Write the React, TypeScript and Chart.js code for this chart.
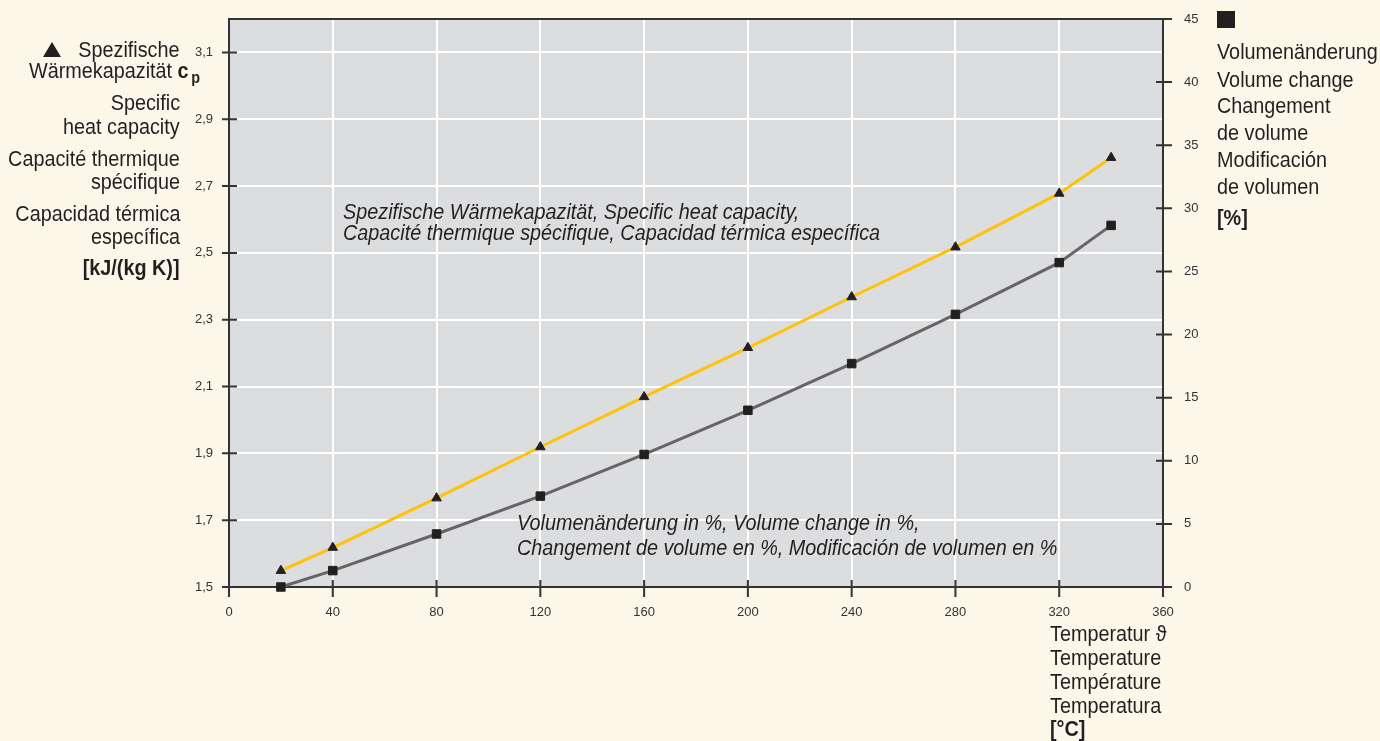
import React, { useEffect, useRef } from "react";
import { Chart, registerables } from "chart.js";

Chart.register(...registerables);

// ---- data ----
const temps = [20, 40, 80, 120, 160, 200, 240, 280, 320, 340];
const heatCapacity = [1.549, 1.618, 1.766, 1.919, 2.069, 2.216, 2.368, 2.517, 2.678, 2.785];
const volumeChange = [0, 1.3, 4.2, 7.2, 10.5, 14.0, 17.7, 21.6, 25.7, 28.65];
const xTicks = [0, 40, 80, 120, 160, 200, 240, 280, 320, 360];
const cpTicks = [1.5, 1.7, 1.9, 2.1, 2.3, 2.5, 2.7, 2.9, 3.1];
const volTicks = [0, 5, 10, 15, 20, 25, 30, 35, 40, 45];

const W = 1380;
const H = 741;
const BG = "#fdf7ea";
const PLOT_BG = "#dcdddf";
const INK = "#231f20";
const TICK_FONT = { family: "'Liberation Sans', Arial, sans-serif", size: 13 };
const TITLE_FONT = "'Liberation Sans', Arial, sans-serif";

const framePlugin = {
  id: "frame",
  beforeDraw(chart: any) {
    const { ctx, chartArea: a } = chart;
    ctx.save();
    ctx.fillStyle = PLOT_BG;
    ctx.fillRect(a.left, a.top, a.right - a.left, a.bottom - a.top);
    ctx.restore();
  },
  beforeDatasetsDraw(chart: any) {
    const { ctx, chartArea: a, scales } = chart;
    ctx.save();
    ctx.strokeStyle = "#333";
    ctx.lineWidth = 2;
    ctx.strokeRect(a.left, a.top, a.right - a.left, a.bottom - a.top);
    ctx.beginPath();
    xTicks.forEach((v) => {
      const px = scales.x.getPixelForValue(v);
      ctx.moveTo(px, a.bottom - 7);
      ctx.lineTo(px, a.bottom + 10);
    });
    cpTicks.forEach((v) => {
      const py = scales.y.getPixelForValue(v);
      ctx.moveTo(a.left - 7, py);
      ctx.lineTo(a.left + 8, py);
    });
    volTicks.forEach((v) => {
      const py = scales.y2.getPixelForValue(v);
      ctx.moveTo(a.right - 7, py);
      ctx.lineTo(a.right + 9, py);
    });
    ctx.stroke();
    ctx.restore();
  },
};

function Txt(props: { x: number; y: number; align?: "left" | "right"; children: any; style?: any }) {
  const { x, y, align = "left", children, style } = props;
  const pos: any = align === "left" ? { left: x } : { right: W - x };
  return (
    <div
      style={{
        position: "absolute",
        top: y,
        transform: "translateY(-50%) scaleX(0.9)",
        transformOrigin: align === "left" ? "left center" : "right center",
        whiteSpace: "nowrap",
        fontFamily: TITLE_FONT,
        fontSize: 22,
        lineHeight: "24px",
        color: INK,
        ...pos,
        ...style,
      }}
    >
      {children}
    </div>
  );
}

function noVPad(s: any) {
  s.paddingTop = 0;
  s.paddingBottom = 0;
}

export default function App() {
  const ref = useRef<HTMLCanvasElement | null>(null);

  useEffect(() => {
    document.body.style.margin = "0";
    document.body.style.background = BG;
    const chart = new Chart(ref.current as HTMLCanvasElement, {
      type: "line",
      data: {
        datasets: [
          {
            label: "cp",
            data: temps.map((t, i) => ({ x: t, y: heatCapacity[i] })),
            yAxisID: "y",
            borderColor: "#fcc30a",
            borderWidth: 3,
            pointStyle: "triangle",
            pointRadius: 5.5,
            pointBackgroundColor: INK,
            pointBorderColor: INK,
            pointBorderWidth: 1,
            clip: false as any,
            order: 2,
          },
          {
            label: "vol",
            data: temps.map((t, i) => ({ x: t, y: volumeChange[i] })),
            yAxisID: "y2",
            borderColor: "#666466",
            borderWidth: 3,
            pointStyle: "rect",
            pointRadius: 6,
            pointBackgroundColor: INK,
            pointBorderColor: INK,
            pointBorderWidth: 1,
            clip: false as any,
            order: 1,
          },
        ],
      },
      options: {
        animation: false,
        responsive: false,
        layout: { padding: { top: 19, left: 0, right: 0, bottom: 0 } },
        plugins: { legend: { display: false }, tooltip: { enabled: false }, title: { display: false } },
        scales: {
          x: {
            type: "linear",
            min: 0,
            max: 360,
            afterBuildTicks: (s: any) => {
              s.ticks = xTicks.map((v) => ({ value: v }));
            },
            afterFit: (s: any) => {
              s.height = H - 587;
              s.paddingLeft = 0;
              s.paddingRight = 0;
            },
            grid: {
              color: (c: any) => (c.tick && (c.tick.value === 0 || c.tick.value === 360) ? "rgba(0,0,0,0)" : "#ffffff"),
              lineWidth: 2,
              drawTicks: false,
            },
            border: { display: false },
            ticks: { padding: 18, color: "#333", font: TICK_FONT, maxRotation: 0, autoSkip: false },
          },
          y: {
            type: "linear",
            position: "left",
            min: 1.5,
            max: 3.2,
            afterBuildTicks: (s: any) => {
              s.ticks = cpTicks.map((v) => ({ value: v }));
            },
            afterFit: (s: any) => {
              s.width = 229;
              noVPad(s);
            },
            grid: {
              color: (c: any) => (c.tick && c.tick.value === 1.5 ? "rgba(0,0,0,0)" : "#ffffff"),
              lineWidth: 2,
              drawTicks: false,
            },
            border: { display: false },
            ticks: {
              padding: 16,
              color: "#333",
              font: TICK_FONT,
              autoSkip: false,
              callback: (v: any) => Number(v).toFixed(1).replace(".", ","),
            },
          },
          y2: {
            type: "linear",
            position: "right",
            min: 0,
            max: 45,
            afterBuildTicks: (s: any) => {
              s.ticks = volTicks.map((v) => ({ value: v }));
            },
            afterFit: (s: any) => {
              s.width = W - 1163;
              noVPad(s);
            },
            grid: { display: false, drawTicks: false },
            border: { display: false },
            ticks: { padding: 21, color: "#333", font: TICK_FONT, autoSkip: false },
          },
        },
      },
      plugins: [framePlugin],
    });
    return () => chart.destroy();
  }, []);

  const italic = { fontStyle: "italic" };

  return (
    <div style={{ position: "fixed", left: 0, top: 0, width: W, height: H, background: BG, overflow: "hidden" }}>
      <canvas ref={ref} width={W} height={H} style={{ display: "block", position: "absolute", left: 0, top: 0 }} />

      {/* left axis title */}
      <div
        style={{
          position: "absolute",
          left: 43,
          top: 42,
          width: 0,
          height: 0,
          borderLeft: "9px solid transparent",
          borderRight: "9px solid transparent",
          borderBottom: "15px solid " + INK,
        }}
      />
      <Txt x={180} y={50} align="right">Spezifische</Txt>
      <Txt x={200} y={72} align="right">
        Wärmekapazität <b>c</b>
        <b style={{ fontSize: 16, position: "relative", top: 5, marginLeft: 3 }}>p</b>
      </Txt>
      <Txt x={180} y={103} align="right">Specific</Txt>
      <Txt x={180} y={127} align="right">heat capacity</Txt>
      <Txt x={180} y={159} align="right">Capacité thermique</Txt>
      <Txt x={180} y={182} align="right">spécifique</Txt>
      <Txt x={180} y={214} align="right">Capacidad térmica</Txt>
      <Txt x={180} y={237} align="right">específica</Txt>
      <Txt x={180} y={268} align="right"><b>[kJ/(kg K)]</b></Txt>

      {/* right axis title */}
      <div style={{ position: "absolute", left: 1217, top: 11, width: 18, height: 17, background: INK }} />
      <Txt x={1217} y={52}>Volumenänderung</Txt>
      <Txt x={1217} y={80}>Volume change</Txt>
      <Txt x={1217} y={106}>Changement</Txt>
      <Txt x={1217} y={133}>de volume</Txt>
      <Txt x={1217} y={160}>Modificación</Txt>
      <Txt x={1217} y={187}>de volumen</Txt>
      <Txt x={1217} y={218}><b>[%]</b></Txt>

      {/* x axis title */}
      <Txt x={1050} y={634}>Temperatur ϑ</Txt>
      <Txt x={1050} y={658}>Temperature</Txt>
      <Txt x={1050} y={682}>Température</Txt>
      <Txt x={1050} y={706}>Temperatura</Txt>
      <Txt x={1050} y={729}><b>[°C]</b></Txt>

      {/* in-plot annotations */}
      <Txt x={343} y={212} style={italic}>Spezifische Wärmekapazität, Specific heat capacity,</Txt>
      <Txt x={343} y={233} style={italic}>Capacité thermique spécifique, Capacidad térmica específica</Txt>
      <Txt x={517} y={523} style={italic}>Volumenänderung in %, Volume change in %,</Txt>
      <Txt x={517} y={548} style={italic}>Changement de volume en %, Modificación de volumen en %</Txt>
    </div>
  );
}
